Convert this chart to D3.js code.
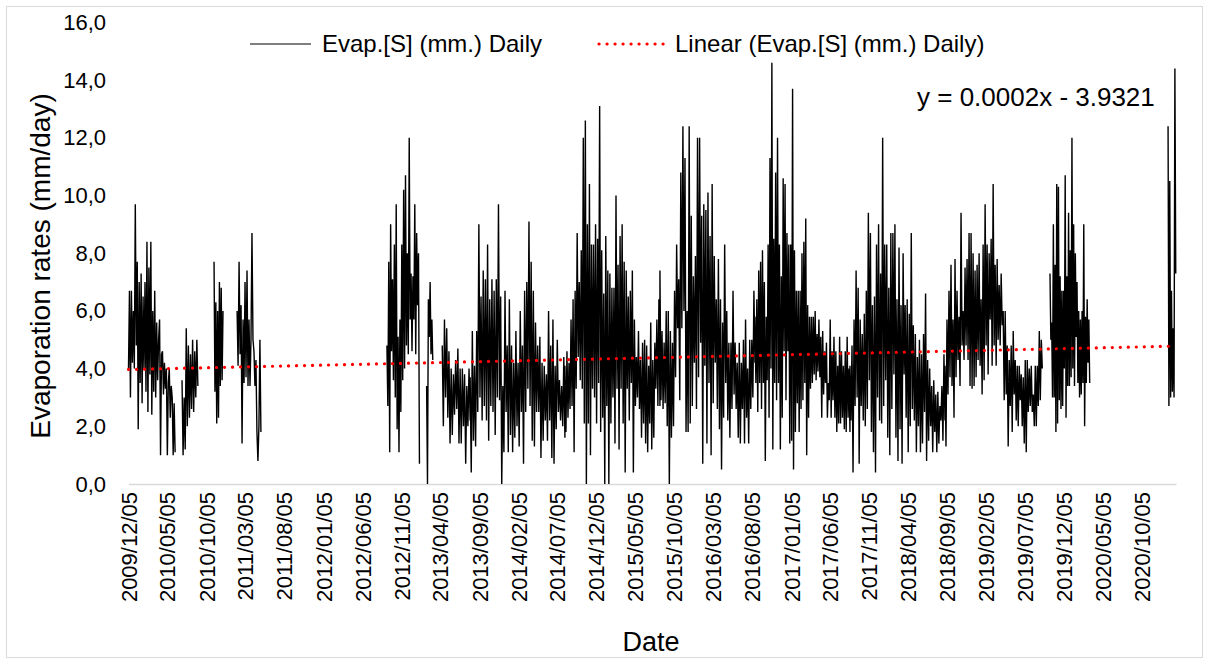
<!DOCTYPE html>
<html>
<head>
<meta charset="utf-8">
<script src="https://cdn.jsdelivr.net/npm/d3@7"></script>
<style>
body { margin: 0; background: #fff; }
text { font-family: Arial, "Liberation Sans", sans-serif; fill: #000; }
</style>
</head>
<body>
<svg width="1209" height="664"></svg>
<script>
var seg1 = [4.0, 6.7, 3.0, 6.7, 4.2, 6.0, 4.0, 9.7, 4.8, 7.7, 1.9, 7.0, 3.5, 7.3, 2.8, 6.5, 4.0, 7.0, 3.2, 8.4, 2.5, 7.5, 3.8, 8.4, 2.4, 6.0, 3.2, 6.7, 3.0, 5.6, 3.6, 5.0, 5.7, 1.0, 4.5, 4.6, 3.1, 4.2, 3.3, 4.0, 1.0, 3.5, 4.0, 2.3, 3.4, 3.0, 1.0, 2.8, 1.1];
var seg2 = [3.6, 1.0, 3.0, 1.2, 5.4, 2.0, 4.8, 2.3, 4.5, 2.6, 5.0, 2.5, 4.6, 3.0, 5.0, 3.4];
var seg3 = [7.7, 3.2, 6.3, 2.1, 6.0, 2.3, 7.0, 3.4, 6.8, 3.6, 6.0];
var seg4 = [6.0, 4.1, 7.7, 4.5, 6.2, 1.4, 5.7, 3.5, 7.0, 3.7, 7.4, 3.4, 5.7, 3.4, 5.0, 8.7, 5.0, 4.6, 3.4, 4.3, 1.8, 0.8, 2.0, 5.0, 1.8];
var seg5 = [4.8, 2.7, 7.7, 1.1, 9.0, 4.6, 7.1, 3.6, 8.3, 3.0, 9.7, 1.9, 5.1, 1.1, 5.7, 2.5, 8.3, 3.6, 10.2, 4.0, 10.7, 4.8, 8.0, 4.5, 12.0, 5.7, 7.3, 4.6, 7.2, 5.7, 9.7, 4.5, 8.7, 6.2, 8.0, 0.7];
var seg6 = [3.4, 0.0, 6.4, 5.1, 7.0, 4.5, 5.7, 4.3];
var seg7 = [4.8, 2.0, 5.7, 3.0, 5.4, 2.3, 4.6, 1.4, 4.0, 1.7, 3.8, 2.4, 4.3, 2.6, 4.7, 1.4, 4.0, 1.4, 4.0, 2.0, 3.8, 0.7, 3.4, 2.0, 4.0, 2.2];
var seg8 = [3.7, 0.4, 5.3, 1.5, 4.1, 1.3, 5.3, 2.5, 9.0, 3.0, 6.5, 2.2, 7.4, 2.7, 7.1, 2.2, 8.3, 1.5, 6.4, 2.7, 7.1, 2.5, 6.7, 1.7, 7.1, 3.0, 9.7, 2.9, 6.5, 0.0, 3.4, 1.1, 6.7, 2.5, 4.8, 1.1, 6.4, 1.7, 4.8, 1.1, 4.2, 1.6, 5.3, 2.0, 4.2, 1.3, 6.0, 2.5, 4.8, 0.7, 6.7, 2.5, 7.0, 3.3, 9.1, 2.7, 7.7, 1.5, 6.7, 1.3, 5.6, 2.5, 4.8, 2.5, 5.1, 0.9, 4.2, 1.5, 4.1, 2.2, 3.8, 1.5, 6.0, 2.2, 4.8, 0.9, 5.7, 0.7, 4.1, 1.9, 5.0, 2.5, 3.6, 2.2, 3.4, 2.0, 4.4, 1.6];
var seg9 = [4.1, 1.8, 4.6, 2.3, 4.2, 2.6, 5.7, 2.7, 6.4, 1.1, 6.7, 3.3, 8.7, 4.4, 7.0, 3.6, 8.1, 3.3, 12.0, 2.1, 12.6, 0.0, 9.0, 2.1, 10.4, 1.0, 8.3, 3.3, 8.3, 3.0, 9.0, 2.1, 8.5, 3.5, 13.1, 1.8, 8.1, 2.3, 6.6, 0.0, 8.6, 2.7, 7.4, 0.0, 7.3, 2.1, 6.8, 3.0, 6.8, 1.4, 10.0, 3.3, 7.6, 1.2, 8.6, 3.3, 9.0, 2.1, 7.7, 0.4, 7.4, 3.3, 6.5, 2.2, 6.7, 3.5, 7.4, 0.4, 5.7, 2.7, 4.4, 3.0, 5.3, 2.6, 4.3, 1.6, 4.9, 2.1, 5.0, 1.4, 4.8, 1.1, 4.1, 2.1, 5.6, 1.2, 4.3, 1.6, 4.9, 3.3, 5.7, 2.7, 6.4, 2.7];
var seg10 = [7.4, 2.9, 5.3, 2.6, 4.9, 2.8, 6.0, 2.0, 6.0, 0.0, 5.3, 1.6, 4.9, 2.0, 6.7, 3.7, 8.3, 5.4, 7.1, 2.9, 10.8, 5.4, 12.4, 6.0, 11.3, 1.8, 6.0, 1.8, 12.4, 2.1, 9.3, 2.7, 7.2, 4.2, 7.9, 2.6, 12.0, 3.7, 12.0, 4.9, 9.3, 0.7, 9.7, 4.1, 9.5, 1.4, 10.1, 3.5, 8.6, 1.0, 10.4, 2.8, 7.9, 4.2, 6.4, 2.6, 7.8, 1.9, 6.4, 0.5, 5.6, 2.3, 8.3, 3.5, 6.0, 2.2, 4.9, 1.6, 4.9, 2.6, 6.7, 3.1, 4.9, 2.6, 4.2, 1.6, 4.9, 1.4, 4.2, 2.6, 5.0, 1.4, 5.7, 2.3, 4.0, 1.4, 5.0, 2.6, 5.0, 3.0, 6.7, 4.2];
var seg11 = [5.8, 3.5, 6.4, 2.5, 7.4, 3.5, 7.7, 2.6, 8.1, 3.5, 7.0, 0.8, 5.8, 3.6, 8.3, 2.3, 11.3, 4.0, 14.6, 1.2, 8.5, 3.5, 10.8, 2.9, 12.0, 3.5, 8.3, 1.2, 7.2, 2.3, 10.6, 4.6, 10.4, 2.9, 8.7, 4.6, 8.3, 1.4, 8.3, 1.5, 13.7, 0.5, 8.1, 1.8, 6.7, 2.8, 6.7, 1.8, 6.7, 2.6, 8.0, 2.9, 8.4, 3.5, 9.2, 1.0, 6.2, 2.3, 5.8, 3.3, 5.8, 3.5, 5.8, 3.8, 6.0, 3.6, 5.2, 3.9, 5.7, 3.7, 5.1, 2.3, 5.3, 3.1, 4.6, 3.5, 4.9, 2.3, 3.5, 2.9, 5.7, 2.3, 4.6, 2.9, 5.1, 2.3, 4.6, 1.8, 4.1, 2.1, 5.1, 2.1, 4.6, 2.3, 4.1, 1.9, 4.6, 1.8, 5.1, 2.3, 4.0, 1.8];
var seg12 = [4.1, 2.2, 4.8, 0.4, 5.7, 2.7, 7.4, 3.0, 6.8, 0.7, 5.7, 2.7, 5.2, 2.2, 5.9, 2.0, 6.7, 2.6, 9.4, 3.6, 8.7, 1.8, 6.2, 1.1, 6.5, 0.4, 8.3, 3.0, 9.0, 2.2, 7.3, 2.1, 12.0, 2.7, 8.3, 3.6, 8.3, 1.6, 6.8, 1.0, 8.7, 2.6, 8.7, 3.8, 9.0, 1.6, 6.4, 0.8, 8.2, 1.9, 6.2, 0.7, 8.0, 3.8, 6.2, 2.3, 6.4, 1.1, 5.9, 2.0, 8.7, 2.6, 5.5, 2.2, 5.2, 1.1, 4.4, 2.0, 5.0, 1.1, 4.5, 1.4, 5.2, 2.5, 6.6, 0.8, 4.3, 1.5, 4.0, 2.0, 3.4, 1.1, 3.6, 1.8, 3.1, 1.1, 3.2, 1.4, 2.7, 2.2, 3.4, 1.5, 4.5, 2.2];
var seg13 = [4.1, 1.3, 5.7, 3.1, 6.7, 3.7, 7.6, 3.4, 5.7, 2.3, 7.8, 3.7, 6.7, 4.3, 5.8, 3.4, 9.4, 4.8, 6.0, 4.3, 7.5, 4.8, 7.8, 4.3, 8.7, 3.4, 8.7, 3.3, 8.0, 3.4, 7.4, 3.7, 7.6, 4.3, 8.0, 4.1, 6.4, 3.1, 8.3, 3.6, 9.7, 4.8, 8.3, 3.8, 8.0, 5.7, 8.5, 4.1, 10.4, 4.8, 7.6, 4.1, 7.8, 5.0, 6.9, 4.8, 7.3, 5.5, 6.0, 2.9, 6.0, 3.1, 4.8, 1.3, 4.3, 2.7, 4.8, 1.8, 5.3, 3.1, 4.3, 2.2, 4.1, 2.0, 4.1, 2.9, 3.8, 2.0, 3.7, 1.4, 4.3, 1.1, 4.3, 2.5, 4.0, 2.7, 4.1, 2.5, 3.1, 2.0, 4.1, 2.0, 4.1, 2.7, 5.3, 2.9, 5.0, 4.0];
var seg14 = [7.3, 5.0, 5.6, 3.0, 9.0, 3.0, 7.6, 1.8, 10.4, 2.1, 10.3, 2.9, 7.2, 2.6, 6.7, 2.7, 6.7, 4.0, 10.7, 2.3, 7.2, 3.4, 9.4, 3.4, 8.1, 3.7, 12.0, 4.0, 9.0, 3.4, 8.0, 5.1, 7.0, 3.5, 6.0, 3.0, 5.7, 3.1, 6.0, 3.5, 9.0, 2.0, 5.8, 3.5, 6.4, 4.2, 5.7, 3.5];
var seg15 = [12.4, 2.7, 10.5, 3.0, 6.7, 3.2, 5.4, 3.0, 14.4, 7.3];

// First and last date of each recorded stretch
var segStarts = ['2009-12-05', '2010-07-02', '2010-11-04', '2011-02-02', '2012-09-09', '2013-02-11', '2013-04-13',
                 '2013-07-31', '2014-08-05', '2015-08-11', '2016-08-16', '2017-08-22', '2018-08-28', '2019-10-12', '2021-01-15'];
var segEnds = ['2010-06-05', '2010-09-02', '2010-12-09', '2011-05-06', '2013-01-14', '2013-03-07', '2013-07-31',
               '2014-08-05', '2015-08-11', '2016-08-16', '2017-08-22', '2018-08-28', '2019-09-12', '2020-03-15', '2021-02-14'];
var segValues = [seg1, seg2, seg3, seg4, seg5, seg6, seg7, seg8, seg9, seg10, seg11, seg12, seg13, seg14, seg15];

// Linear trend end values
var trendDates = ['2009-12-05', '2021-02-14'];
var trendValues = [3.97, 4.78];

var tickLabels = ['2009/12/05', '2010/05/05', '2010/10/05', '2011/03/05', '2011/08/05', '2012/01/05', '2012/06/05',
                  '2012/11/05', '2013/04/05', '2013/09/05', '2014/02/05', '2014/07/05', '2014/12/05', '2015/05/05',
                  '2015/10/05', '2016/03/05', '2016/08/05', '2017/01/05', '2017/06/05', '2017/11/05', '2018/04/05',
                  '2018/09/05', '2019/02/05', '2019/07/05', '2019/12/05', '2020/05/05', '2020/10/05'];
var yTicks = [0, 2, 4, 6, 8, 10, 12, 14, 16];
var axisStart = '2009-12-05';
var axisEnd = '2021-02-15';

var svg = d3.select('svg');
var parseDay = d3.timeParse('%Y-%m-%d');
var parseTick = d3.timeParse('%Y/%m/%d');

// Plot area edges
var plot = {l: 128.5, r: 1176, t: 22.4, b: 484};

var xScale = d3.scaleTime().domain([parseDay(axisStart), parseDay(axisEnd)]).range([plot.l, plot.r]);
var yScale = d3.scaleLinear().domain([0, 16]).range([plot.b, plot.t]);

// Chart border
svg.append('rect')
    .attr('x', 6.5).attr('y', 6.5)
    .attr('width', 1196).attr('height', 651)
    .attr('fill', '#fff')
    .attr('stroke', '#d9d9d9');

// Build the point list, breaking the line where days are missing
var points = [];
segValues.forEach(function(vals, i) {
    var t0 = parseDay(segStarts[i]).getTime();
    var t1 = parseDay(segEnds[i]).getTime();
    if (points.length && t0 - points[points.length - 1].date.getTime() > 12 * 864e5) {
        points.push({date: points[points.length - 1].date, v: null});
    }
    vals.forEach(function(v, j) {
        points.push({date: new Date(t0 + (t1 - t0) * j / (vals.length - 1)), v: v});
    });
});

// X axis
var xAxis = d3.axisBottom(xScale)
    .tickValues(tickLabels.map(parseTick))
    .tickFormat(d3.timeFormat('%Y/%m/%d'))
    .tickSize(0);
var gx = svg.append('g')
    .attr('transform', 'translate(0,' + plot.b + ')')
    .call(xAxis);
gx.select('.domain').attr('stroke', '#d9d9d9').attr('stroke-width', 1.3);
gx.selectAll('text')
    .attr('transform', 'rotate(-90)')
    .attr('text-anchor', 'end')
    .attr('x', -8)
    .attr('y', 0)
    .attr('dy', '0.35em')
    .style('font-size', '22px')
    .style('font-family', 'Arial, "Liberation Sans", sans-serif');

// Y axis (labels only)
var yAxis = d3.axisLeft(yScale)
    .tickValues(yTicks)
    .tickFormat(function(d) { return d3.format('.1f')(d).replace('.', ','); })
    .tickSize(0)
    .tickPadding(0);
var gy = svg.append('g')
    .attr('transform', 'translate(106,0)')
    .call(yAxis);
gy.select('.domain').remove();
gy.selectAll('text')
    .style('font-size', '22px')
    .style('font-family', 'Arial, "Liberation Sans", sans-serif');

// Daily series
var line = d3.line()
    .defined(function(d) { return d.v != null; })
    .x(function(d) { return xScale(d.date); })
    .y(function(d) { return yScale(d.v); });

svg.append('path')
    .datum(points)
    .attr('d', line)
    .attr('fill', 'none')
    .attr('stroke', '#000')
    .attr('stroke-width', 1.4)
    .attr('stroke-linejoin', 'bevel');

// Linear trend
var trend = trendDates.map(function(d, i) { return {date: parseDay(d), v: trendValues[i]}; });
svg.append('path')
    .datum(trend)
    .attr('d', line)
    .attr('fill', 'none')
    .attr('stroke', '#ff0000')
    .attr('stroke-width', 3.2)
    .attr('stroke-linecap', 'round')
    .attr('stroke-dasharray', '0.1 7.9');

// Legend
var legend = svg.append('g').attr('class', 'legend');
legend.append('line')
    .attr('x1', 250).attr('x2', 311).attr('y1', 44).attr('y2', 44)
    .attr('stroke', '#000').attr('stroke-width', 1.2);
legend.append('text')
    .attr('x', 322).attr('y', 44).attr('dy', '0.35em')
    .style('font-size', '24px')
    .text('Evap.[S] (mm.) Daily');
legend.append('line')
    .attr('x1', 599).attr('x2', 667).attr('y1', 44).attr('y2', 44)
    .attr('stroke', '#ff0000').attr('stroke-width', 3.2)
    .attr('stroke-linecap', 'round').attr('stroke-dasharray', '0.1 7.9');
legend.append('text')
    .attr('x', 675).attr('y', 44).attr('dy', '0.35em')
    .style('font-size', '24px')
    .text('Linear (Evap.[S] (mm.) Daily)');

// Trend equation
svg.append('text')
    .attr('x', 917).attr('y', 97).attr('dy', '0.35em')
    .style('font-size', '26px')
    .text('y = 0.0002x - 3.9321');

// Axis titles
svg.append('text')
    .attr('x', 651).attr('y', 642).attr('dy', '0.35em')
    .attr('text-anchor', 'middle')
    .style('font-size', '27px')
    .text('Date');
svg.append('text')
    .attr('transform', 'translate(40,266) rotate(-90)')
    .attr('dy', '0.35em')
    .attr('text-anchor', 'middle')
    .style('font-size', '28px')
    .text('Evaporation rates (mm/day)');
</script>
</body>
</html>
